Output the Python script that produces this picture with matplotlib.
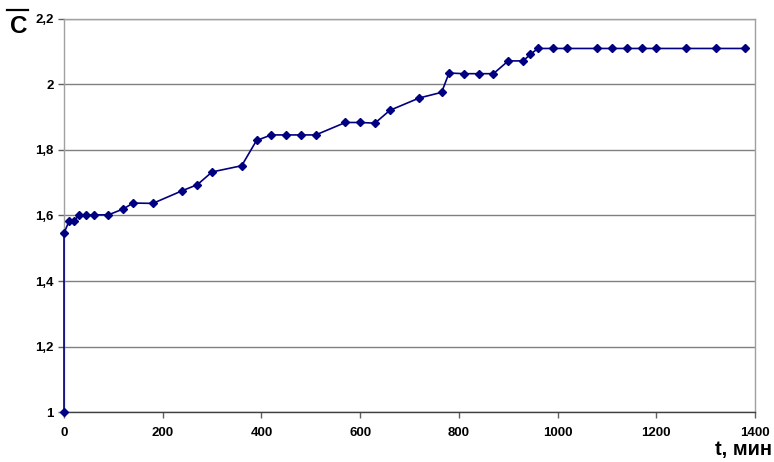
import matplotlib
matplotlib.use("Agg")
import matplotlib.pyplot as plt
from matplotlib.lines import Line2D

t_min = [0, 0, 10, 20, 30, 45, 60, 90, 120, 140, 180, 240, 270, 300, 360, 390,
         420, 450, 480, 510, 570, 600, 630, 660, 720, 765, 780, 810, 840, 870,
         900, 930, 945, 960, 990, 1020, 1080, 1110, 1140, 1170, 1200, 1260, 1320, 1380]
c_val = [1.0, 1.546, 1.582, 1.582, 1.602, 1.602, 1.602, 1.602, 1.62, 1.638, 1.637, 1.676, 1.694, 1.733, 1.752, 1.829,
         1.846, 1.846, 1.846, 1.846, 1.884, 1.884, 1.882, 1.921, 1.959, 1.976, 2.035, 2.033, 2.033, 2.033,
         2.072, 2.072, 2.092, 2.11, 2.11, 2.11, 2.11, 2.11, 2.11, 2.11, 2.11, 2.11, 2.11, 2.11]

x_ticks = [0, 200, 400, 600, 800, 1000, 1200, 1400]
y_ticks = [1.0, 1.2, 1.4, 1.6, 1.8, 2.0, 2.2]
y_tick_labels = ["1", "1,2", "1,4", "1,6", "1,8", "2", "2,2"]

plt.rcParams['font.family'] = ['Liberation Sans', 'DejaVu Sans']

fig = plt.figure(figsize=(7.74, 4.62), dpi=100)
ax = fig.add_axes([0.0827, 0.1082, 0.8928, 0.8507])

ax.plot(t_min, c_val, color='#000080', lw=1.2, marker='D', ms=4.5,
        markerfacecolor='#000080', markeredgecolor='#000080', zorder=3, clip_on=False)

ax.set_xlim(0, 1400)
ax.set_ylim(1.0, 2.2)
ax.set_xticks(x_ticks)
ax.set_xticklabels([str(v) for v in x_ticks])
ax.set_yticks(y_ticks)
ax.set_yticklabels(y_tick_labels)

ax.grid(axis='y', color='#808080', lw=1.0)
ax.set_axisbelow(True)
for side in ['left', 'right', 'top']:
    ax.spines[side].set_color('#a0a0a0')
    ax.spines[side].set_linewidth(1.0)
ax.spines['bottom'].set_color('#404040')
ax.spines['bottom'].set_linewidth(1.0)

ax.tick_params(axis='both', direction='out', length=4, width=1, color='#606060',
               labelsize=9.5)
ax.tick_params(axis='x', pad=7)
for lbl in ax.get_xticklabels() + ax.get_yticklabels():
    lbl.set_fontweight('bold')

fig.text(10 / 774, 1 - 33 / 462, 'C', fontsize=17.5, fontweight='bold', ha='left', va='baseline')
fig.add_artist(Line2D([7 / 774, 28 / 774], [1 - 9.5 / 462, 1 - 9.5 / 462],
                      color='black', lw=1.6, transform=fig.transFigure))
fig.text(772 / 774, 1 - 455 / 462, 't, мин', fontsize=14.5, fontweight='bold', ha='right', va='baseline')

fig.savefig('out.png', dpi=100)
